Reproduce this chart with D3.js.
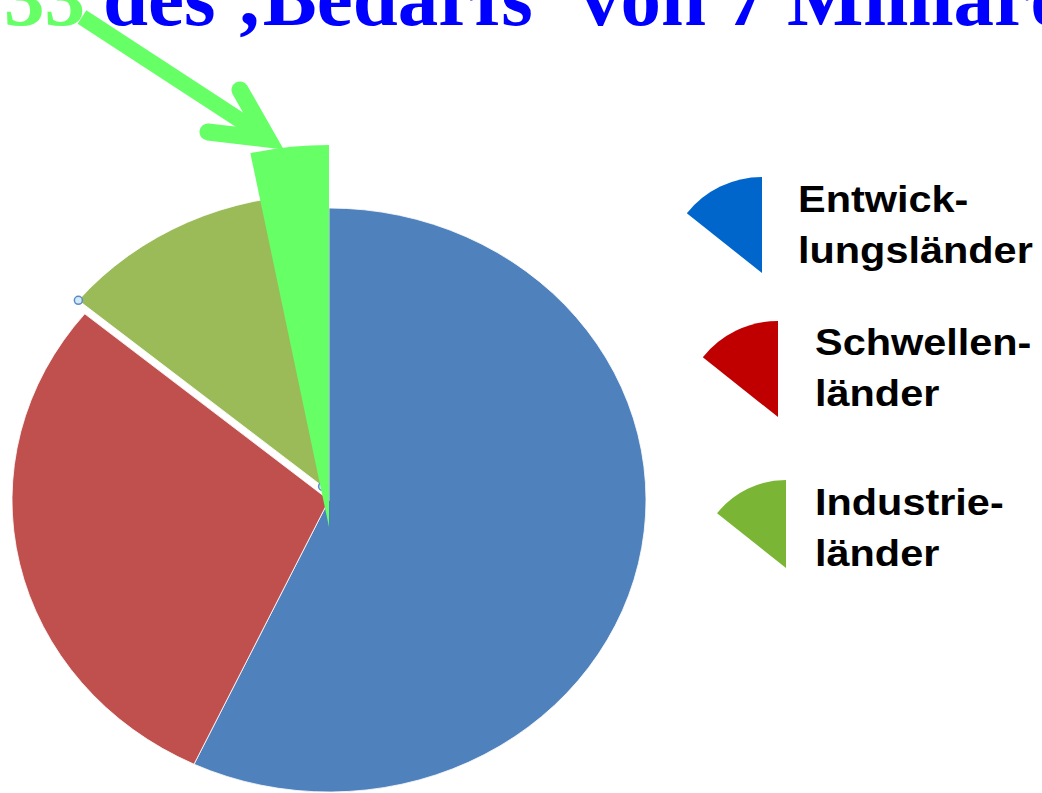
<!DOCTYPE html>
<html lang="de">
<head>
<meta charset="utf-8">
<title>Bedarf</title>
<script src="https://d3js.org/d3.v7.min.js"></script>
<style>
  body { margin: 0; background: #fff; }
  svg { display: block; }
</style>
</head>
<body>
<div id="chart"></div>
<script>
// values
var categories = ["Entwicklungsländer", "Schwellenländer", "Industrieländer"];
var shares = [57, 29, 14];
var legendLines = [["Entwick-", "lungsländer"], ["Schwellen-", "länder"], ["Industrie-", "länder"]];
var highlightShare = 3.3;   // the bright green "3%" wedge
var titleLead = "33";
var titleRest = "des \u201ABedarfs\u2018 von 7 Milliarden";

// styles
var sliceColors = ["#4F81BD", "#C0504D", "#9BBB59"];
var legendColors = ["#0066CC", "#C00000", "#7AB535"];
var explode = [0, 0, 15];
var bright = "#66FF66";

var W = 1042, H = 793;
var cx = 329, cy = 500, rx = 317, ry = 292, R = 300;

var svg = d3.select("#chart").append("svg")
  .attr("width", W)
  .attr("height", H);

//pie
var pie = d3.pie().sort(null).value(function(d){ return d; });
var arcs = pie(shares);
var arc = d3.arc().innerRadius(0).outerRadius(R);

var offs = arcs.map(function(a, i){
  var m = (a.startAngle + a.endAngle) / 2;
  return [Math.sin(m) * explode[i], -Math.cos(m) * explode[i]];
});

svg.append("g").selectAll("path")
  .data(arcs)
  .enter()
  .append("path")
  .attr("transform", function(d, i){
    return "translate(" + (cx + offs[i][0]) + "," + (cy + offs[i][1]) + ") scale(" + (rx / R) + "," + (ry / R) + ")";
  })
  .attr("d", arc)
  .attr("fill", function(d, i){ return sliceColors[i]; })
  .attr("stroke", "#fff")
  .attr("stroke-width", 0.8)
  .attr("vector-effect", "non-scaling-stroke");

// selection handles on the pulled-out slice
var g = arcs[2], go = offs[2];
var handles = [
  [cx + go[0], cy + go[1]],
  [cx + go[0] + Math.sin(g.startAngle) * rx, cy + go[1] - Math.cos(g.startAngle) * ry]
];
svg.append("g").selectAll("circle")
  .data(handles)
  .enter()
  .append("circle")
  .attr("cx", function(d){ return d[0]; })
  .attr("cy", function(d){ return d[1]; })
  .attr("r", 4)
  .attr("fill", "#D5E8F7")
  .attr("stroke", "#5B8CC8")
  .attr("stroke-width", 1.5);

// bright green wedge
var hiArc = d3.arc()
  .innerRadius(0)
  .outerRadius(382)
  .startAngle(-2 * Math.PI * highlightShare / 100)
  .endAngle(0);
svg.append("path")
  .attr("transform", "translate(329,527)")
  .attr("d", hiArc())
  .attr("fill", bright);

// arrow
svg.append("line")
  .attr("x1", 82).attr("y1", 17)
  .attr("x2", 266).attr("y2", 137)
  .attr("stroke", bright)
  .attr("stroke-width", 16);
svg.append("path")
  .attr("d", d3.line()([[240, 90], [268, 139], [208, 132]]))
  .attr("fill", "none")
  .attr("stroke", bright)
  .attr("stroke-width", 17)
  .attr("stroke-linecap", "round")
  .attr("stroke-linejoin", "miter");

// title (top is cut off in the picture)
var title = svg.append("text")
  .attr("y", 25)
  .style("font-family", "'Liberation Serif', 'Times New Roman', serif")
  .style("font-weight", "bold")
  .style("font-size", "81px");
title.append("tspan").attr("x", 4).attr("fill", bright).text(titleLead);
title.append("tspan").attr("x", 103).attr("fill", "#0000FF").text(titleRest);

// legend
var legendPos = [[762, 273, 96], [778, 417, 96], [786, 568, 88]];
var legendText = [[798, 212], [815, 355], [815, 515]];
var legArc = d3.arc().innerRadius(0).startAngle(-0.9).endAngle(0);

var leg = svg.append("g").selectAll("g")
  .data(categories)
  .enter()
  .append("g");

leg.append("path")
  .attr("transform", function(d, i){ return "translate(" + legendPos[i][0] + "," + legendPos[i][1] + ")"; })
  .attr("d", function(d, i){ return legArc({outerRadius: legendPos[i][2]}); })
  .attr("fill", function(d, i){ return legendColors[i]; });

leg.each(function(d, i){
  var el = d3.select(this);
  legendLines[i].forEach(function(line, k){
    el.append("text")
      .attr("transform", "translate(" + legendText[i][0] + "," + (legendText[i][1] + k * 51) + ") scale(1.12,1)")
      .style("font-family", "'Liberation Sans', Arial, sans-serif")
      .style("font-weight", "bold")
      .style("font-size", "37px")
      .attr("fill", "#000")
      .text(line);
  });
});
</script>
</body>
</html>
